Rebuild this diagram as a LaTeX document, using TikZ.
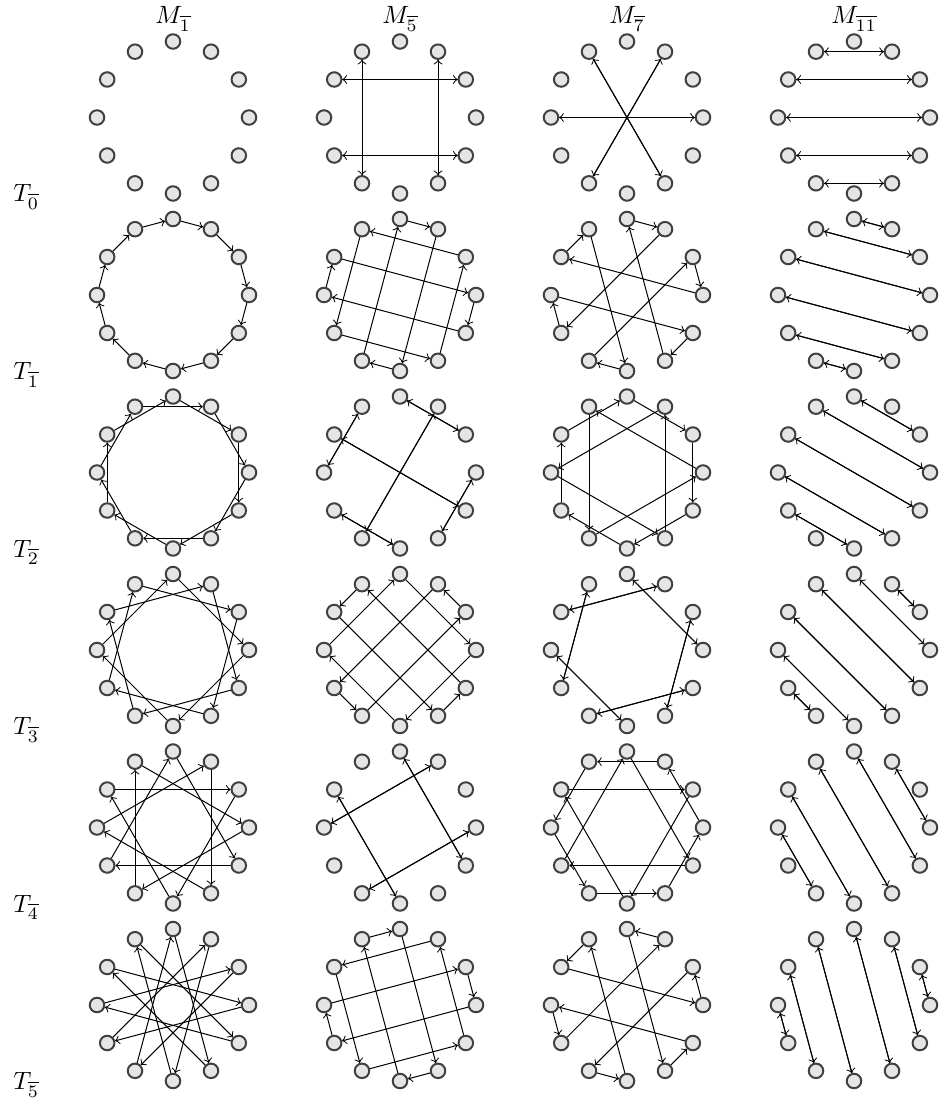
\documentclass[tikz,border=0pt]{standalone}
\usetikzlibrary{arrows}
\begin{document}
\begin{tikzpicture}[x=0.4pt,y=-0.4pt,
  pt/.style={circle,draw=black!75,fill=black!10,line width=0.8pt,minimum size=5.8pt,inner sep=0pt},
  map/.style={->,line width=0.4pt}]
\useasboundingbox (0,0) rectangle (942,1104);
\foreach \a/\cx [count=\ci] in {1/173,5/400,7/627,11/854}{
  \node[anchor=base] (h\ci) at (\cx,24) {$M_{\overline{\a}}$};
  \foreach \b in {0,...,5}{
    \pgfmathsetmacro{\cy}{117.5+177.5*\b}
    \foreach \k in {0,...,11}{
      \node[pt] (p-\ci-\b-\k) at ({\cx+76*cos(90-30*\k)},{\cy-76*sin(90-30*\k)}) {};
    }
    \foreach \k in {0,...,11}{
      \pgfmathtruncatemacro{\f}{mod(\a*\k+\b,12)}
      \ifnum\f=\k\relax\else \draw[map] (p-\ci-\b-\k) -- (p-\ci-\b-\f);\fi
    }
  }
}
\foreach \b in {0,...,5}{
  \node[anchor=base west] (t\b) at (4.5,{202+177.5*\b}) {$T_{\overline{\b}}$};
}
\end{tikzpicture}
\end{document}
